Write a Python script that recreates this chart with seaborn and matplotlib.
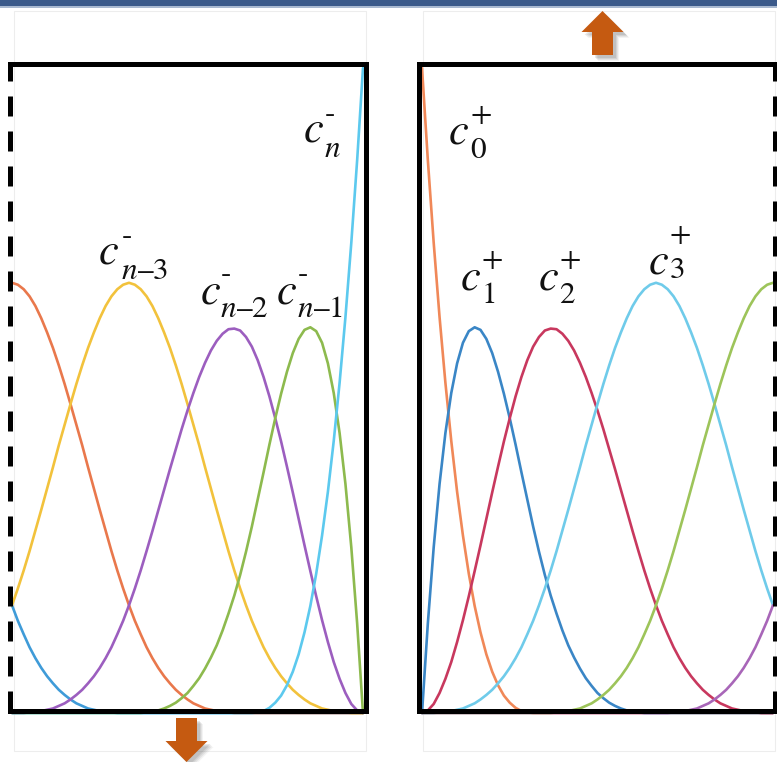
import matplotlib
matplotlib.use("Agg")
import matplotlib.pyplot as plt
import numpy as np
import pandas as pd
import seaborn as sns
from matplotlib.patches import Polygon, Rectangle

sns.set_style("white")
plt.rcParams["mathtext.fontset"] = "stix"
plt.rcParams["lines.scale_dashes"] = False

# script placement: superscripts raised and subscripts dropped by ~1 / 0.75 x-height
try:
    from matplotlib import _mathtext as _mt
    for _cls in (_mt.FontConstantsBase, _mt.STIXFontConstants):
        _cls.sup1 = 1.0
        _cls.sub1 = 0.75
        _cls.sub2 = 0.75
except Exception:
    pass

# sample positions along each panel, in knot-interval units (0 .. 3, step 0.05)
u_grid = [round(0.05 * i, 2) for i in range(61)]

# right panel: basis functions at the start of the clamped cubic spline
c0_plus = [1.000, .857, .729, .614, .512, .422, .343, .275, .216, .166,
           .125, .091, .064, .043, .027, .016, .008, .003, .001] + [0] * 42
c1_plus = [0, .139, .257, .355, .434, .496, .542, .574, .592, .598,
           .594, .580, .558, .529, .495, .457, .416, .373, .331, .289,
           .250, .214, .182, .154, .128, .105, .086, .069, .054, .042,
           .031, .023, .016, .011, .007, .004, .002, .001] + [0] * 23
c2_plus = [0, .004, .014, .031, .053, .079, .110, .144, .181, .220,
           .260, .301, .342, .382, .421, .457, .491, .521, .547, .568,
           .583, .593, .596, .595, .588, .577, .562, .543, .521, .496,
           .469, .440, .409, .378, .346, .314, .282, .251, .221, .193,
           .167, .143, .122, .102, .085, .070, .057, .046, .036, .028,
           .021, .015, .011, .007, .005, .003, .001, .001, 0, 0, 0]
c3_plus = [0, 0, 0, .001, .001, .003, .005, .007, .011, .015,
           .021, .028, .036, .046, .057, .070, .085, .102, .122, .143,
           .167, .193, .221, .251, .283, .315, .348, .381, .415, .447,
           .479, .510, .539, .566, .590, .612, .631, .646, .657, .664,
           .667, .664, .657, .646, .631, .612, .590, .566, .539, .510,
           .479, .447, .415, .381, .348, .315, .283, .251, .221, .193, .167]
c4_plus = [0] * 23 + [.001, .001, .003, .005, .007, .011, .015, .021, .028, .036,
                      .046, .057, .070, .085, .102, .122, .143, .167,
                      .193, .221, .251, .283, .315, .348, .381, .415, .447, .479,
                      .510, .539, .566, .590, .612, .631, .646, .657, .664, .667]
c5_plus = [0] * 43 + [.001, .001, .003, .005, .007, .011, .015, .021, .028,
                      .036, .046, .057, .070, .085, .102, .122, .143, .167]

# left panel: basis functions at the end of the spline,
# sampled from the right end of the panel towards the left
cn_minus = [1.000, .857, .729, .614, .512, .422, .343, .275, .216, .166,
            .125, .091, .064, .043, .027, .016, .008, .003, .001] + [0] * 42
cn1_minus = [0, .139, .257, .355, .434, .496, .542, .574, .592, .598,
             .594, .580, .558, .529, .495, .457, .416, .373, .331, .289,
             .250, .214, .182, .154, .128, .105, .086, .069, .054, .042,
             .031, .023, .016, .011, .007, .004, .002, .001] + [0] * 23
cn2_minus = [0, .004, .014, .031, .053, .079, .110, .144, .181, .220,
             .260, .301, .342, .382, .421, .457, .491, .521, .547, .568,
             .583, .593, .596, .595, .588, .577, .562, .543, .521, .496,
             .469, .440, .409, .378, .346, .314, .282, .251, .221, .193,
             .167, .143, .122, .102, .085, .070, .057, .046, .036, .028,
             .021, .015, .011, .007, .005, .003, .001, .001, 0, 0, 0]
cn3_minus = [0, 0, 0, .001, .001, .003, .005, .007, .011, .015,
             .021, .028, .036, .046, .057, .070, .085, .102, .122, .143,
             .167, .193, .221, .251, .283, .315, .348, .381, .415, .447,
             .479, .510, .539, .566, .590, .612, .631, .646, .657, .664,
             .667, .664, .657, .646, .631, .612, .590, .566, .539, .510,
             .479, .447, .415, .381, .348, .315, .283, .251, .221, .193, .167]
cn4_minus = [0] * 23 + [.001, .001, .003, .005, .007, .011, .015, .021, .028, .036,
                        .046, .057, .070, .085, .102, .122, .143, .167,
                        .193, .221, .251, .283, .315, .348, .381, .415, .447, .479,
                        .510, .539, .566, .590, .612, .631, .646, .657, .664, .667]
cn5_minus = [0] * 43 + [.001, .001, .003, .005, .007, .011, .015, .021, .028,
                        .036, .046, .057, .070, .085, .102, .122, .143, .167]

left_curves = {"cn5": cn5_minus, "cn4": cn4_minus, "cn3": cn3_minus,
               "cn2": cn2_minus, "cn1": cn1_minus, "cn": cn_minus}
left_colors = {"cn5": "#3F9BD8", "cn4": "#E9784C", "cn3": "#F2C23C",
               "cn2": "#9C5EBF", "cn1": "#8DBA4E", "cn": "#5CC9EE"}

right_curves = {"c0": c0_plus, "c1": c1_plus, "c2": c2_plus,
                "c3": c3_plus, "c4": c4_plus, "c5": c5_plus}
right_colors = {"c0": "#F08858", "c1": "#3A86C6", "c2": "#C8385E",
                "c3": "#6FCBEA", "c4": "#9DC45A", "c5": "#A866B8"}

# curve labels: the symbol c, then its stacked sign / index
label_scripts = [r"${}^{\text{-}}_{n}$", r"${}^{\text{-}}_{n\text{–}3}$",
                 r"${}^{\text{-}}_{n\text{–}2}$", r"${}^{\text{-}}_{n\text{–}1}$",
                 r"${}^{+}_{0}$", r"${}^{+}_{1}$", r"${}^{+}_{2}$", r"${}^{+}_{3}$"]


def long_frame(curves, mirrored):
    parts = []
    for k, v in curves.items():
        x = [3.0 - u for u in u_grid] if mirrored else u_grid
        parts.append(pd.DataFrame({"u": x, "value": v, "curve": k}))
    return pd.concat(parts, ignore_index=True)


W, H = 777, 762
fig = plt.figure(figsize=(W / 100, H / 100), dpi=100)

# faint frames behind the panels
bg = fig.add_axes([0, 0, 1, 1], zorder=0)
bg.set_xlim(0, W)
bg.set_ylim(H, 0)
bg.axis("off")
for x0, x1 in [(14, 366), (423, 775)]:
    bg.add_patch(Rectangle((x0, 11), x1 - x0, 740, fill=False,
                           edgecolor="#EDEDED", lw=0.8))

px_bottom, px_top = 711, 64
zero_px, unit_px = 713, 645
ylim = ((zero_px - px_bottom) / unit_px, (zero_px - px_top) / unit_px)
knot_px = 117.0


def make_panel(left_px, right_px, origin_px, curves, colors, dashed_side, mirrored):
    ax = fig.add_axes([left_px / W, (H - px_bottom) / H,
                       (right_px - left_px) / W, (px_bottom - px_top) / H],
                      zorder=2)
    ax.patch.set_alpha(0)
    df = long_frame(curves, mirrored)
    sns.lineplot(data=df, x="u", y="value", hue="curve", palette=colors,
                 legend=False, ax=ax, linewidth=1.9, estimator=None, sort=True)
    for ln in ax.lines:
        ln.set_clip_on(False)
        ln.set_solid_capstyle("round")
        ln.set_solid_joinstyle("round")
    ax.set_xlim((left_px - origin_px) / knot_px, (right_px - origin_px) / knot_px)
    ax.set_ylim(*ylim)
    ax.set_xticks([])
    ax.set_yticks([])
    ax.set_xlabel("")
    ax.set_ylabel("")
    for side, sp in ax.spines.items():
        sp.set_visible(True)
        sp.set_color("black")
        sp.set_linewidth(3.6)
        sp.set_zorder(3)
        if side == dashed_side:
            sp.set_linestyle((0, (14.4, 10.8)))
            sp.set_capstyle("butt")
        else:
            sp.set_capstyle("projecting")
    return ax


ax_left = make_panel(10, 366, 12, left_curves, left_colors, "left", True)
ax_right = make_panel(419, 775, 422, right_curves, right_colors, "right", False)

# decorations, arrows and labels in pixel space
top = fig.add_axes([0, 0, 1, 1], zorder=5)
top.set_xlim(0, W)
top.set_ylim(H, 0)
top.axis("off")
top.patch.set_alpha(0)

top.add_patch(Rectangle((0, 0), W, 6, color="#3B5A8A", lw=0))
top.add_patch(Rectangle((0, 6), W, 1.5, color="#A9B9D0", lw=0))

up_arrow = [(602.5, 11), (623.5, 32), (613, 32), (613, 55),
            (592, 55), (592, 32), (581.5, 32)]
down_arrow = [(176, 718), (197, 718), (197, 741), (207.5, 741),
              (186.5, 762), (165.5, 741), (176, 741)]
for shape in (up_arrow, down_arrow):
    for dx, dy, a in [(6, 6, 0.07), (5, 5, 0.10), (4, 4, 0.12), (3, 3, 0.15)]:
        top.add_patch(Polygon([(x + dx, y + dy) for x, y in shape],
                              closed=True, color="#606060", alpha=a, lw=0))
    top.add_patch(Polygon(shape, closed=True, color="#C55A11", lw=0))

# (x, baseline) of each c, and of its scripts
c_pos = [(303, 142), (98, 263), (200, 303), (276, 303),
         (448, 143), (460, 290), (538, 290), (648, 273)]
script_pos = [(324, 143), (121, 265), (220, 303), (297, 303),
              (470, 143), (481, 289), (559, 289), (669, 263)]
for (x, y) in c_pos:
    top.text(x, y, r"$c$", fontsize=32, ha="left", va="baseline", color="#111111")
for s, (x, y) in zip(label_scripts, script_pos):
    top.text(x, y, s, fontsize=32, ha="left", va="baseline", color="#111111")

fig.savefig("out.png", dpi=100)
